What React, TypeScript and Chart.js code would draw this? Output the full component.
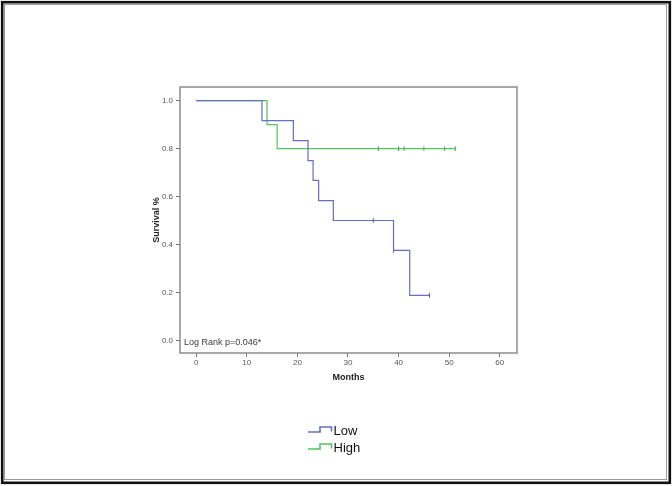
import React, { useEffect, useRef } from "react";
import { Chart, registerables } from "chart.js";

Chart.register(...registerables);

// Kaplan-Meier step data (months, survival proportion)
const lowTimes = [0, 13.0, 19.2, 22.1, 23.1, 24.2, 27.1, 39.0, 42.2, 46.1];
const lowSurv = [1.0, 0.917, 0.833, 0.75, 0.667, 0.583, 0.5, 0.375, 0.1875, 0.1875];
const lowCensorTimes = [35.0, 39.0, 46.1];
const lowCensorSurv = [0.5, 0.375, 0.1875];

const highTimes = [0, 14.0, 16.0, 51.2];
const highSurv = [1.0, 0.9, 0.8, 0.8];
const highCensorTimes = [36.0, 40.0, 41.1, 45.0, 49.1, 51.2];
const highCensorSurv = [0.8, 0.8, 0.8, 0.8, 0.8, 0.8];

const xTicks = [0, 10, 20, 30, 40, 50, 60];
const yTicks = [0.0, 0.2, 0.4, 0.6, 0.8, 1.0];

const seriesNames = ["Low", "High"];
const seriesColors = ["#6370c2", "#52c35e"];
const censorColors = ["#3d4a9a", "#2f9a3c"];
const annotation = "Log Rank p=0.046*";

const toPoints = (xs: number[], ys: number[]) => xs.map((x, i) => ({ x, y: ys[i] }));

const decorPlugin = {
  id: "decor",
  beforeDraw(chart: any) {
    const ctx = chart.ctx;
    ctx.save();
    ctx.fillStyle = "#ffffff";
    ctx.fillRect(0, 0, chart.width, chart.height);
    ctx.restore();
  },
  afterDraw(chart: any) {
    const ctx = chart.ctx;
    const a = chart.chartArea;
    ctx.save();
    // plot box
    ctx.strokeStyle = "#8c8c8c";
    ctx.lineWidth = 1.5;
    ctx.strokeRect(a.left, a.top, a.right - a.left, a.bottom - a.top);
    // annotation
    ctx.fillStyle = "#3a3a3a";
    ctx.font = "9px 'Liberation Sans', Arial, sans-serif";
    ctx.textAlign = "left";
    ctx.textBaseline = "middle";
    ctx.fillText(annotation, a.left + 4, a.bottom - 10);
    // legend
    const lx = 308;
    const ly = [431, 448];
    seriesNames.forEach((name, i) => {
      const y = ly[i];
      ctx.strokeStyle = seriesColors[i];
      ctx.lineWidth = 1.6;
      ctx.beginPath();
      ctx.moveTo(lx, y + 1);
      ctx.lineTo(lx + 12, y + 1);
      ctx.lineTo(lx + 12, y - 4);
      ctx.lineTo(lx + 23.5, y - 4);
      ctx.lineTo(lx + 23.5, y + 0.5);
      ctx.stroke();
      ctx.fillStyle = "#111111";
      ctx.font = "13px 'Liberation Sans', Arial, sans-serif";
      ctx.textBaseline = "middle";
      ctx.fillText(name, lx + 25.5, y);
    });
    // outer frame
    ctx.strokeStyle = "#111111";
    ctx.lineWidth = 2.6;
    ctx.strokeRect(2.2, 2.2, 667.6, 480.6);
    ctx.strokeStyle = "#9a9a9a";
    ctx.lineWidth = 1;
    ctx.strokeRect(4.5, 4.5, 662, 475);
    ctx.restore();
  },
};

export default function App() {
  const ref = useRef<HTMLCanvasElement | null>(null);

  useEffect(() => {
    if (!ref.current) return;
    const tickFont = { family: "'Liberation Sans', Arial, sans-serif", size: 8 };
    const titleFont = { family: "'Liberation Sans', Arial, sans-serif", size: 9, weight: "bold" as const };
    const chart = new Chart(ref.current, {
      type: "line",
      data: {
        datasets: [
          {
            label: seriesNames[0],
            data: toPoints(lowTimes, lowSurv),
            borderColor: seriesColors[0],
            borderWidth: 1.2,
            pointRadius: 0,
            stepped: true,
            fill: false,
          },
          {
            label: seriesNames[1],
            data: toPoints(highTimes, highSurv),
            borderColor: seriesColors[1],
            borderWidth: 1.2,
            pointRadius: 0,
            stepped: true,
            fill: false,
          },
          {
            label: seriesNames[0] + " censored",
            data: toPoints(lowCensorTimes, lowCensorSurv),
            showLine: false,
            pointStyle: "line",
            rotation: 90,
            pointRadius: 2.2,
            borderWidth: 1,
            borderColor: censorColors[0],
          },
          {
            label: seriesNames[1] + " censored",
            data: toPoints(highCensorTimes, highCensorSurv),
            showLine: false,
            pointStyle: "line",
            rotation: 90,
            pointRadius: 2.2,
            borderWidth: 1,
            borderColor: censorColors[1],
          },
        ],
      },
      options: {
        responsive: false,
        animation: false,
        devicePixelRatio: 1,
        layout: { padding: { left: 151, right: 155, top: 87, bottom: 103 } },
        plugins: { legend: { display: false }, tooltip: { enabled: false } },
        scales: {
          x: {
            type: "linear",
            min: -3.2,
            max: 63.4,
            afterBuildTicks: (s: any) => {
              s.ticks = xTicks.map((v) => ({ value: v }));
            },
            afterFit: (s: any) => {
              s.height = 30;
            },
            border: { display: false },
            grid: { drawOnChartArea: false, drawTicks: true, tickLength: 4, color: "#777777" },
            ticks: { font: tickFont, color: "#555555", padding: 1, maxRotation: 0, autoSkip: false },
            title: { display: true, text: "Months", font: titleFont, color: "#222222", padding: 0 },
          },
          y: {
            type: "linear",
            min: -0.053,
            max: 1.057,
            afterBuildTicks: (s: any) => {
              s.ticks = yTicks.map((v) => ({ value: v }));
            },
            afterFit: (s: any) => {
              s.width = 29;
            },
            border: { display: false },
            grid: { drawOnChartArea: false, drawTicks: true, tickLength: 4, color: "#777777" },
            ticks: {
              font: tickFont,
              color: "#555555",
              padding: 3,
              autoSkip: false,
              callback: (v: any) => Number(v).toFixed(1),
            },
            title: { display: true, text: "Survival %", font: titleFont, color: "#222222", padding: 0 },
          },
        },
      },
      plugins: [decorPlugin],
    });
    return () => chart.destroy();
  }, []);

  return (
    <div style={{ position: "absolute", left: 0, top: 0, width: 672, height: 486, background: "#fff" }}>
      <canvas ref={ref} width={672} height={486} style={{ display: "block", width: 672, height: 486 }} />
    </div>
  );
}
